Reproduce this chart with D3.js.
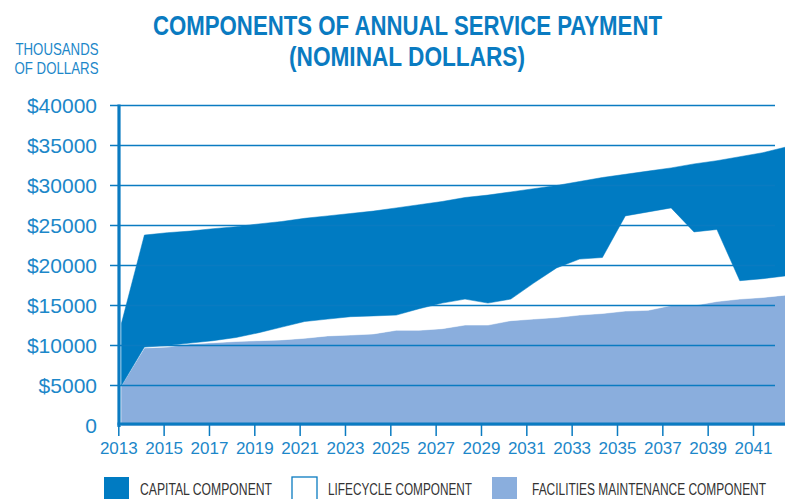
<!DOCTYPE html>
<html>
<head>
<meta charset="utf-8">
<script src="https://cdn.jsdelivr.net/npm/d3@7"></script>
<style>
  html, body { margin: 0; padding: 0; background: #fff; }
  svg { display: block; }
</style>
</head>
<body>
<svg id="chart" width="785" height="499"></svg>
<script>
// ---- data (thousands of dollars, nominal) ----
const years = [2013,2014,2015,2016,2017,2018,2019,2020,2021,2022,2023,2024,2025,2026,2027,
               2028,2029,2030,2031,2032,2033,2034,2035,2036,2037,2038,2039,2040,2041,2042];
const facilities = [5000,9700,9800,10200,10350,10500,10600,10700,10900,11200,11300,11450,11900,11900,12100,
                    12550,12550,13100,13300,13500,13800,14000,14300,14400,15000,15000,15500,15800,16000,16300];
const lifecycle  = [0,100,200,100,250,500,1000,1600,2100,2100,2300,2250,1900,2700,3200,
                    3250,2750,2700,4500,6200,7000,7000,11900,12300,12200,9200,9000,2300,2350,2400];
const capital    = [7800,14000,14100,14000,14000,13850,13600,13200,12900,12900,12900,13100,13400,13000,12700,
                    12700,13500,13400,11800,10300,9700,10000,5200,5100,5000,8500,8600,15500,15750,16100];
const yTicks = [0,5000,10000,15000,20000,25000,30000,35000,40000];
const xTickYears = [2013,2015,2017,2019,2021,2023,2025,2027,2029,2031,2033,2035,2037,2039,2041];
const seriesKeys = ["facilities","lifecycle","capital"];
const legendItems = ["CAPITAL COMPONENT","LIFECYCLE COMPONENT","FACILITIES MAINTENANCE COMPONENT"];

// ---- styles ----
const C_DARK = "#007bc2", C_LIGHT = "#8aaedd", C_LINE = "#0a7bc1", C_TEXT = "#1c87c9";
const fills = { capital: C_DARK, lifecycle: "#ffffff", facilities: C_LIGHT };

const svg = d3.select("#chart");

const rows = years.map((yr, i) => ({ year: yr, facilities: facilities[i], lifecycle: lifecycle[i], capital: capital[i] }));
const stacked = d3.stack().keys(seriesKeys)(rows);

const y = d3.scaleLinear().domain([0, 40000]).range([425.5, 105.5]);
const xData = d3.scaleLinear().domain([2013, 2042]).range([121.5, 785.6]);
const xAxisScale = d3.scaleLinear().domain([2013, 2041]).range([118.3, 753.0]);

// areas
const area = d3.area()
  .x(d => xData(d.data.year))
  .y0(d => y(d[0]))
  .y1(d => y(d[1]));

svg.append("g").selectAll("path")
  .data(stacked)
  .join("path")
  .attr("d", area)
  .attr("fill", d => fills[d.key])
  .attr("stroke", d => fills[d.key])
  .attr("stroke-width", 0.5);

// gridlines (drawn over areas)
svg.append("g").selectAll("line")
  .data(yTicks.filter(v => v > 0))
  .join("line")
  .attr("x1", 110).attr("x2", 775)
  .attr("y1", d => y(d)).attr("y2", d => y(d))
  .attr("stroke", C_LINE).attr("stroke-width", 1.4);

// y labels
svg.append("g").selectAll("text")
  .data(yTicks)
  .join("text")
  .attr("x", 97)
  .attr("y", d => y(d))
  .attr("dy", "0.36em")
  .attr("text-anchor", "end")
  .attr("font-family", "'Liberation Sans', Arial, sans-serif")
  .attr("font-size", 21)
  .attr("fill", C_TEXT)
  .text(d => d === 0 ? "0" : "$" + d);

// x axis
const xAxis = d3.axisBottom(xAxisScale)
  .tickValues(xTickYears)
  .tickFormat(d3.format("d"))
  .tickSize(11)
  .tickSizeOuter(0);
const gx = svg.append("g").attr("transform", "translate(0,425)").call(xAxis);
gx.select(".domain").remove();
gx.selectAll(".tick line").attr("stroke", C_LINE).attr("stroke-width", 1.5);
gx.selectAll(".tick text")
  .attr("y", 17)
  .attr("font-family", "'Liberation Sans', Arial, sans-serif")
  .attr("font-size", 17)
  .attr("fill", C_TEXT);

// axis lines
svg.append("line").attr("x1", 119).attr("x2", 119).attr("y1", 104.5).attr("y2", 427)
  .attr("stroke", C_LINE).attr("stroke-width", 3.2);
svg.append("line").attr("x1", 117.5).attr("x2", 785).attr("y1", 424).attr("y2", 424)
  .attr("stroke", C_LINE).attr("stroke-width", 3.2);

// title
const title = svg.append("g")
  .attr("font-family", "'Liberation Sans Narrow', 'Liberation Sans', Arial, sans-serif")
  .attr("font-weight", "bold")
  .attr("font-size", 27)
  .attr("fill", C_LINE)
  .attr("text-anchor", "middle");
title.append("text").attr("x", 407.5).attr("y", 35)
  .attr("textLength", 509).attr("lengthAdjust", "spacingAndGlyphs")
  .text("COMPONENTS OF ANNUAL SERVICE PAYMENT");
title.append("text").attr("x", 407).attr("y", 66)
  .attr("textLength", 236).attr("lengthAdjust", "spacingAndGlyphs")
  .text("(NOMINAL DOLLARS)");

// y unit label
const unit = svg.append("g")
  .attr("font-family", "'Liberation Sans Narrow', 'Liberation Sans', Arial, sans-serif")
  .attr("font-size", 16.5)
  .attr("fill", C_TEXT)
  .attr("text-anchor", "end");
unit.append("text").attr("x", 98.5).attr("y", 55).attr("textLength", 83).attr("lengthAdjust", "spacingAndGlyphs").text("THOUSANDS");
unit.append("text").attr("x", 98.5).attr("y", 74).attr("textLength", 84).attr("lengthAdjust", "spacingAndGlyphs").text("OF DOLLARS");

// legend
const legendX = [104, 292, 492];
const legendTextX = [140, 328, 532];
const legendTextW = [132, 144, 234];
const legendFill = [C_DARK, "#ffffff", C_LIGHT];
const lg = svg.append("g");
legendItems.forEach((name, i) => {
  lg.append("rect").attr("x", legendX[i]).attr("y", 477).attr("width", 25).attr("height", 25)
    .attr("fill", legendFill[i])
    .attr("stroke", i === 1 ? C_LINE : "none").attr("stroke-width", 1.3);
  lg.append("text").attr("x", legendTextX[i]).attr("y", 494.5)
    .attr("font-family", "'Liberation Sans Narrow', 'Liberation Sans', Arial, sans-serif")
    .attr("font-size", 16)
    .attr("fill", "#333333")
    .attr("textLength", legendTextW[i]).attr("lengthAdjust", "spacingAndGlyphs")
    .text(name);
});
</script>
</body>
</html>
